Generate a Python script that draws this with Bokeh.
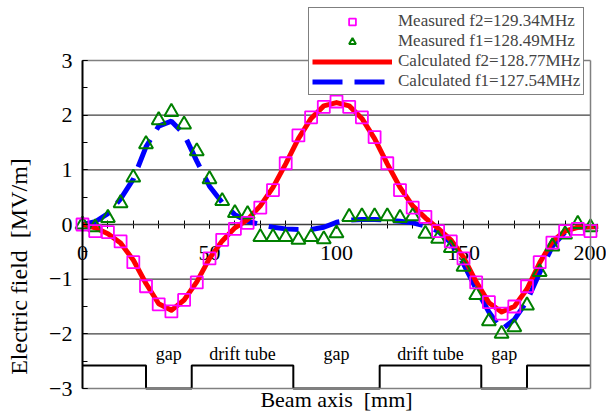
import math
from bokeh.plotting import figure
from bokeh.models import (Range1d, SingleIntervalTicker, FixedTicker, LinearAxis, Legend,
                          LegendItem, Label)
from bokeh.core.properties import value
from bokeh.embed import file_html
from bokeh.resources import INLINE

# ---------------- data ----------------
meas_x = [0, 5, 10, 15, 20, 25, 30, 35, 40, 45, 50, 55, 60, 65, 70, 75, 80, 85, 90, 95, 100,
          105, 110, 115, 120, 125, 130, 135, 140, 145, 150, 155, 160, 165, 170, 175, 180, 185, 190, 195, 200]
meas_f2 = [0.0, -0.12, -0.14, -0.31, -0.69, -1.13, -1.46, -1.59, -1.38, -1.06, -0.62, -0.28, -0.08, 0.03,
           0.31, 0.63, 1.12, 1.63, 1.96, 2.15, 2.25, 2.15, 1.96, 1.60, 1.12, 0.63, 0.31, 0.14,
           -0.12, -0.31, -0.62, -1.06, -1.42, -1.63, -1.50, -1.13, -0.69, -0.33, -0.12, -0.08, -0.12]
meas_f1 = [0.0, -0.05, 0.12, 0.39, 0.86, 1.47, 1.91, 2.06, 1.83, 1.34, 0.83, 0.43, 0.21, 0.19,
           -0.23, -0.23, -0.23, -0.28, -0.23, -0.27, -0.16, 0.14, 0.15, 0.15, 0.15, 0.12, 0.15, -0.17,
           -0.26, -0.43, -0.77, -1.29, -1.77, -2.00, -1.88, -1.48, -0.87, -0.40, -0.18, 0.01, -0.05]

calc_x = [0, 5, 10, 15, 20, 25, 30, 35, 40, 45, 50, 55, 60, 65, 70, 75, 80, 85, 90, 95, 100,
          105, 110, 115, 120, 125, 130, 135, 140, 145, 150, 155, 160, 165, 170, 175, 180, 185, 190, 195, 200, 203]
calc_f2 = [0.0, -0.06, -0.17, -0.34, -0.65, -1.08, -1.45, -1.57, -1.38, -1.05, -0.62, -0.30, -0.06, 0.09,
           0.34, 0.68, 1.11, 1.57, 1.94, 2.17, 2.23, 2.17, 1.94, 1.57, 1.11, 0.68, 0.34, 0.12,
           -0.07, -0.28, -0.60, -1.05, -1.43, -1.60, -1.50, -1.18, -0.70, -0.31, -0.12, -0.05, -0.04, -0.04]
calc_f1 = [0.0, 0.05, 0.20, 0.47, 0.83, 1.42, 1.80, 1.89, 1.65, 1.16, 0.70, 0.40, 0.18, 0.06,
           0.0, -0.05, -0.08, -0.09, -0.09, -0.05, 0.04, 0.08, 0.09, 0.09, 0.08, 0.06, 0.03, -0.03,
           -0.12, -0.33, -0.72, -1.18, -1.60, -1.92, -1.74, -1.40, -0.88, -0.40, -0.14, -0.05, -0.04, -0.03]

# cavity structure along the beam axis
struct_edges = [0, 25, 43, 83, 117, 157, 175, 200]
struct_kind = ["drift", "gap", "drift", "gap", "drift", "gap", "drift"]
struct_text = ["", "gap", "drift tube", "gap", "drift tube", "gap", ""]

x_bounds = [0, 200]
y_bounds = [-3, 3]
x_tick_step = 50
y_tick_step = 1
grid_y = [-2, -1, 0, 1, 2]

labels_legend = ["Measured f2=129.34MHz", "Measured f1=128.49MHz",
                 "Calculated f2=128.77MHz", "Calculated f1=127.54MHz"]
x_title = "Beam axis \u00a0[mm]"
y_title = "Electric field \u00a0[MV/m]"

# ---------------- layout (pixels) ----------------
W, H = 606, 413
BOX_L, BOX_R, BOX_T, BOX_B = 82, 590, 60, 388
FONT = "Liberation Serif"
DRIFT_LEVEL = -2.58
GAP_LEVEL = -3.0
TEXT_LEVEL = -2.36

sx_per = (BOX_R - BOX_L) / (x_bounds[1] - x_bounds[0])
sy_per = (BOX_B - BOX_T) / (y_bounds[1] - y_bounds[0])
XL = x_bounds[0] - BOX_L / sx_per
XR = x_bounds[1] + (W - BOX_R) / sx_per
YT = y_bounds[1] + BOX_T / sy_per
YB = y_bounds[0] - (H - BOX_B) / sy_per


def px_x(px):
    return XL + px / sx_per


def px_y(py):
    return YT - py / sy_per


p = figure(width=W, height=H, output_backend="svg", toolbar_location=None,
           x_axis_type=None, y_axis_type=None, min_border=0,
           x_range=Range1d(XL, XR), y_range=Range1d(YB, YT))
p.background_fill_color = "white"
p.border_fill_color = "white"
p.outline_line_color = None
p.xgrid.visible = False
p.ygrid.visible = False

# horizontal grid lines
p.segment(x0=[x_bounds[0]] * len(grid_y), x1=[x_bounds[1]] * len(grid_y), y0=grid_y, y1=grid_y,
          line_color="#404040", line_width=1.2)


# gray frame (top, right, bottom)
def frame_axis(loc, side, bounds):
    ax = LinearAxis(fixed_location=loc, bounds=tuple(bounds), ticker=FixedTicker(ticks=[], minor_ticks=[]),
                    axis_line_color="#808080", axis_line_width=1.5,
                    major_tick_line_color=None, minor_tick_line_color=None,
                    major_label_text_font_size="0px")
    p.add_layout(ax, side)


frame_axis(y_bounds[1], "above", x_bounds)
frame_axis(y_bounds[0], "below", x_bounds)
frame_axis(x_bounds[1], "right", y_bounds)

# x axis through y = 0
xa = LinearAxis(fixed_location=0, bounds=tuple(x_bounds),
                ticker=SingleIntervalTicker(interval=x_tick_step, num_minor_ticks=5))
xa.major_tick_in = 4
xa.major_tick_out = 4
xa.minor_tick_in = 4
xa.minor_tick_out = 4
xa.axis_line_color = "#303030"
xa.axis_line_width = 1.5
xa.major_tick_line_color = "black"
xa.minor_tick_line_color = "black"
xa.major_label_standoff = 17
xa.major_label_text_font = FONT
xa.major_label_text_font_size = "22px"
xa.major_label_text_color = "black"
xa.level = "underlay"
p.add_layout(xa, "below")

# y axis at x = 0
ya = LinearAxis(fixed_location=x_bounds[0], bounds=tuple(y_bounds),
                ticker=SingleIntervalTicker(interval=y_tick_step, num_minor_ticks=2))
ya.major_tick_in = 5
ya.major_tick_out = 0
ya.minor_tick_in = 5
ya.minor_tick_out = 0
ya.axis_line_color = "black"
ya.axis_line_width = 2
ya.major_tick_line_color = "black"
ya.minor_tick_line_color = "black"
ya.major_label_standoff = 10
ya.major_label_text_font = FONT
ya.major_label_text_font_size = "22px"
ya.major_label_text_color = "black"
p.add_layout(ya, "left")

# structure step line
sx, sy = [], []
for i, k in enumerate(struct_kind):
    lvl = GAP_LEVEL if k == "gap" else DRIFT_LEVEL
    sx += [struct_edges[i], struct_edges[i + 1]]
    sy += [lvl, lvl]
p.line(sx, sy, line_color="black", line_width=2)

tx = [(struct_edges[i] + struct_edges[i + 1]) / 2 for i, t in enumerate(struct_text) if t]
tt = [t for t in struct_text if t]
p.text(x=tx, y=[TEXT_LEVEL] * len(tx), text=tt, text_font=value(FONT), text_font_size="18px",
       text_align="center", text_baseline="alphabetic", text_color="black")

r_f1c = p.line(calc_x, calc_f1, line_color="#0000FF", line_width=5, line_dash="30 12")
r_f2c = p.line(calc_x, calc_f2, line_color="#FF0000", line_width=5, line_join="round")
r_f1m = p.scatter(meas_x, meas_f1, marker="triangle", size=14, line_color="#008000",
                  fill_color=None, line_width=2)
r_f2m = p.scatter(meas_x, meas_f2, marker="square", size=12, line_color="#FF00FF",
                  fill_color=None, line_width=1.8)

legend = Legend(items=[LegendItem(label=labels_legend[0], renderers=[r_f2m]),
                       LegendItem(label=labels_legend[1], renderers=[r_f1m]),
                       LegendItem(label=labels_legend[2], renderers=[r_f2c]),
                       LegendItem(label=labels_legend[3], renderers=[r_f1c])],
                location=(308, 318))
legend.border_line_color = "black"
legend.border_line_width = 1
legend.background_fill_color = "white"
legend.background_fill_alpha = 1
legend.label_text_font = FONT
legend.label_text_font_size = "17px"
legend.glyph_width = 80
legend.glyph_height = 17
legend.label_height = 17
legend.spacing = 0
legend.padding = 3
legend.margin = 0
legend.label_standoff = 6
p.add_layout(legend, "center")

p.add_layout(Label(x=px_x((BOX_L + BOX_R) / 2), y=px_y(399), text=x_title, text_font=FONT,
                   text_font_size="22px", text_align="center", text_baseline="middle",
                   text_color="black"))
p.add_layout(Label(x=px_x(18), y=px_y(266), text=y_title, text_font=FONT, text_font_size="24px",
                   angle=math.pi / 2, text_align="center", text_baseline="middle",
                   text_color="black"))

open("out.html", "w").write(file_html(p, INLINE))
